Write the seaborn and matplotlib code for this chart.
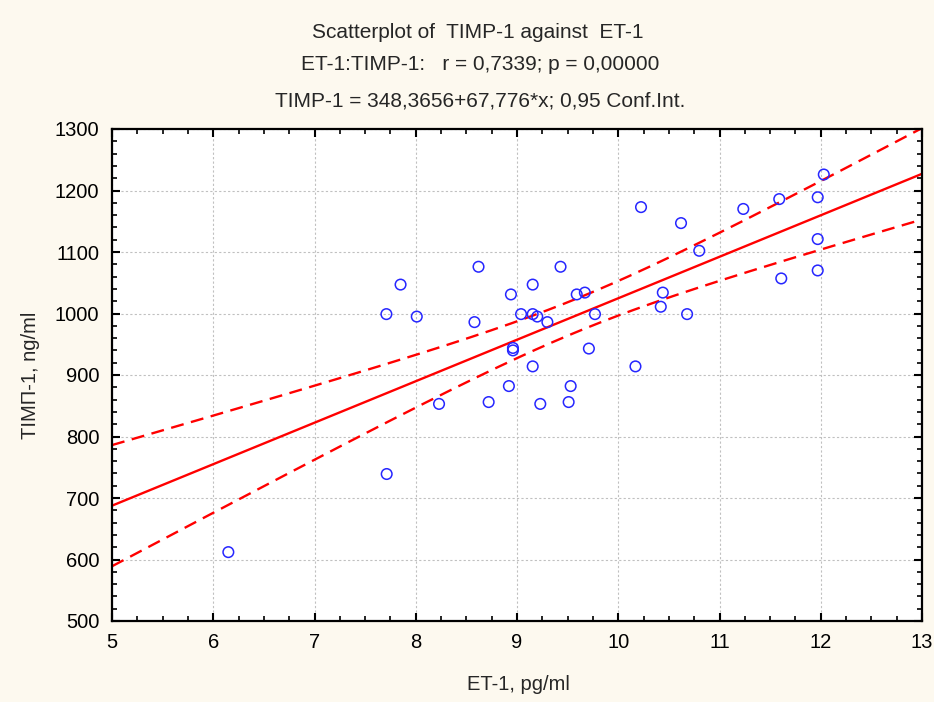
import numpy as np
import pandas as pd
import matplotlib
matplotlib.use("Agg")
import matplotlib.pyplot as plt
import seaborn as sns
from matplotlib.ticker import MultipleLocator

# ---- data ----
et1 = [7.85, 7.71, 8.01, 8.62, 8.58, 8.94, 9.04, 9.155, 9.155, 9.20,
       9.30, 9.43, 9.59, 9.67, 9.77, 8.96, 8.96, 9.71, 9.155, 10.17,
       8.92, 9.53, 8.23, 8.72, 9.23, 9.51,
       10.225, 10.62, 10.80, 11.235, 11.59, 11.97, 12.03, 11.97, 11.97,
       11.61, 10.44, 10.42, 10.68,
       7.713, 6.149]
timp1 = [1047, 999, 995, 1076, 986, 1031, 999, 1047, 999, 995,
         986, 1076, 1031, 1034, 999, 944, 940, 943, 914, 914,
         882, 882, 853, 856, 853, 856,
         1173, 1147, 1102, 1170, 1186, 1189, 1226, 1121, 1070,
         1057, 1034, 1011, 999,
         739, 612]

title_lines = ["Scatterplot of  TIMP-1 against  ET-1",
               "ET-1:TIMP-1:   r = 0,7339; p = 0,00000",
               "TIMP-1 = 348,3656+67,776*x; 0,95 Conf.Int."]
x_label = "ET-1, pg/ml"
y_label = "TIMП-1, ng/ml"
x_ticks = [5, 6, 7, 8, 9, 10, 11, 12, 13]
y_ticks = [500, 600, 700, 800, 900, 1000, 1100, 1200, 1300]

df = pd.DataFrame({"ET-1": et1, "TIMP-1": timp1})

sns.set_theme(style="white")
plt.rcParams["font.family"] = ["Liberation Sans", "DejaVu Sans"]

W, H = 934, 702
fig = plt.figure(figsize=(W / 100, H / 100), dpi=100)
bg = "#fdf9ef"
fig.patch.set_facecolor(bg)
ax = fig.add_axes([112 / W, 1 - 621 / H, (922 - 112) / W, (621 - 129) / H])
ax.set_facecolor("white")

# grid
ax.set_axisbelow(True)
ax.grid(True, which="major", color="#c0c0c0", linestyle=(0, (2, 2)), linewidth=0.8)

# regression + 95% CI computed from the data
x = np.asarray(et1, float)
y = np.asarray(timp1, float)
n = len(x)
slope, intercept = np.polyfit(x, y, 1)
xs = np.linspace(5, 13, 200)
pred = intercept + slope * xs
resid = y - (intercept + slope * x)
s = np.sqrt(np.sum(resid ** 2) / (n - 2))
sxx = np.sum((x - x.mean()) ** 2)
tval = 2.0227
half = tval * s * np.sqrt(1 / n + (xs - x.mean()) ** 2 / sxx)
red = "#ff0000"
sns.lineplot(x=xs, y=pred, ax=ax, color=red, linewidth=1.7)
sns.lineplot(x=xs, y=pred + half, ax=ax, color=red, linewidth=1.7, linestyle=(0, (5.5, 3.2)))
sns.lineplot(x=xs, y=pred - half, ax=ax, color=red, linewidth=1.7, linestyle=(0, (5.5, 3.2)))

sns.scatterplot(data=df, x="ET-1", y="TIMP-1", ax=ax, marker="o", s=58,
                facecolor="none", edgecolor="#2626ff", linewidth=1.1, zorder=5)

ax.set_xlim(5, 13)
ax.set_ylim(500, 1300)
ax.set_xticks(x_ticks)
ax.set_yticks(y_ticks)
ax.xaxis.set_minor_locator(MultipleLocator(0.25))
ax.yaxis.set_minor_locator(MultipleLocator(20))
ax.tick_params(which="both", direction="in", top=True, right=True, bottom=True, left=True,
               color="black")
ax.tick_params(which="major", length=6, width=1.5, labelsize=14.5, pad=9, labelcolor="black")
ax.tick_params(which="minor", length=3.5, width=1.2)
for sp in ax.spines.values():
    sp.set_visible(True)
    sp.set_color("black")
    sp.set_linewidth(1.6)
ax.set_xlabel("")
ax.set_ylabel("")

fig.text(518 / W, 1 - 685 / H, x_label, ha="center", va="center", fontsize=14.5)
fig.text(30 / W, 1 - 375 / H, y_label, ha="center", va="center", rotation=90, fontsize=14.5)

tpos = [(478, 33), (480, 64), (480, 101)]
for txt, (px, py) in zip(title_lines, tpos):
    fig.text(px / W, 1 - py / H, txt, ha="center", va="center", fontsize=15)

fig.savefig("out.png", dpi=100, facecolor=bg)
